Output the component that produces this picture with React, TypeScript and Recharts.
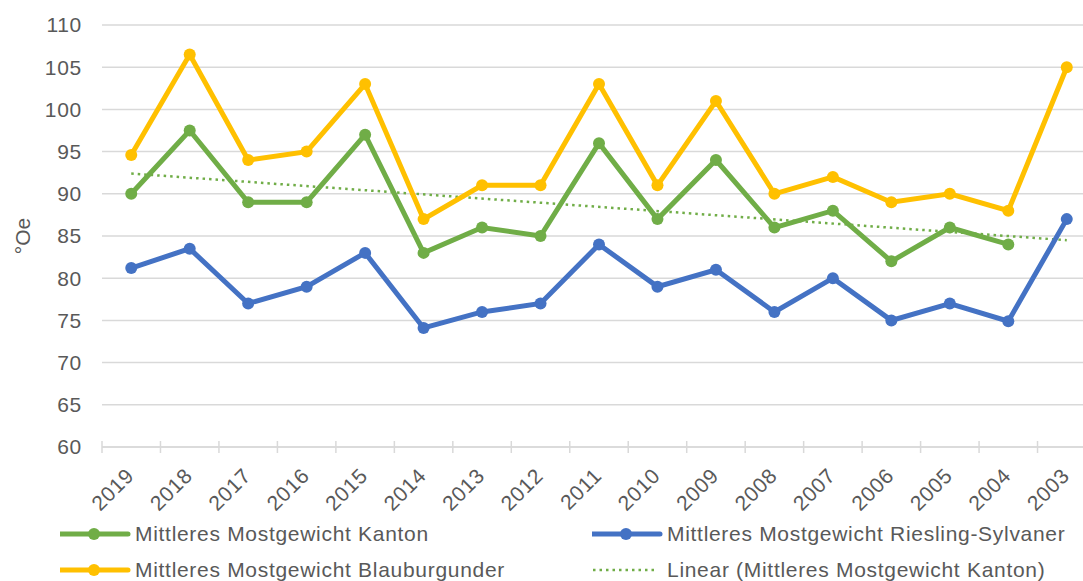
import React from 'react';
import { LineChart, Line, XAxis, YAxis, CartesianGrid } from 'recharts';

// Jahrgänge (neueste zuerst, wie im Original)
const years = ['2019', '2018', '2017', '2016', '2015', '2014', '2013', '2012', '2011', '2010', '2009', '2008', '2007', '2006', '2005', '2004', '2003'];

// Mittleres Mostgewicht in °Oe
const kanton = [90, 97.5, 89, 89, 97, 83, 86, 85, 96, 87, 94, 86, 88, 82, 86, 84, null];
const riesling = [81.2, 83.5, 77, 79, 83, 74.1, 76, 77, 84, 79, 81, 76, 80, 75, 77, 74.9, 87];
const blauburgunder = [94.6, 106.5, 94, 95, 103, 87, 91, 91, 103, 91, 101, 90, 92, 89, 90, 88, 105];
const trend = [92.4, null, null, null, null, null, null, null, null, null, null, null, null, null, null, null, 84.5];

const yTicks = [60, 65, 70, 75, 80, 85, 90, 95, 100, 105, 110];

const GREEN = '#70AD47';
const BLUE = '#4472C4';
const YELLOW = '#FFC000';
const TEXT = '#595959';
const GRID = '#D9D9D9';
const FONT = '"Liberation Sans", Arial, sans-serif';

const data = years.map((year, i) => ({
  year,
  kanton: kanton[i],
  riesling: riesling[i],
  blauburgunder: blauburgunder[i],
  trend: trend[i],
}));

const YearTick = (props: any) => {
  const { x, y, payload, width, visibleTicksCount } = props;
  const half = payload && payload.offset > 2 ? payload.offset : width / visibleTicksCount / 2;
  return (
    <g>
      <line x1={x - half} x2={x - half} y1={y - 6} y2={y + 6} stroke={GRID} strokeWidth={1.5} />
      <text
        x={x + 4}
        y={y + 30}
        transform={`rotate(-45 ${x + 4} ${y + 30})`}
        textAnchor="end"
        fill={TEXT}
        fontSize={21}
        letterSpacing={0.7}
        fontFamily={FONT}
      >
        {payload.value}
      </text>
    </g>
  );
};

const legendItems = [
  { label: 'Mittleres Mostgewicht Kanton', color: GREEN, left: 60, top: 534, dotted: false },
  { label: 'Mittleres Mostgewicht Riesling-Sylvaner', color: BLUE, left: 592, top: 534, dotted: false },
  { label: 'Mittleres Mostgewicht Blauburgunder', color: YELLOW, left: 60, top: 570, dotted: false },
  { label: 'Linear (Mittleres Mostgewicht Kanton)', color: GREEN, left: 592, top: 570, dotted: true },
];

export default function App() {
  return (
    <div
      style={{
        position: 'absolute',
        left: 0,
        top: 0,
        width: 1083,
        height: 581,
        overflow: 'hidden',
        background: '#fff',
        fontFamily: FONT,
      }}
    >
      <LineChart
        width={1100}
        height={581}
        data={data}
        margin={{ top: 25, right: 4, bottom: 0, left: 0 }}
      >
        <CartesianGrid vertical={false} stroke={GRID} strokeWidth={1.5} />
        <XAxis
          dataKey="year"
          scale="band"
          interval={0}
          height={134}
          tickSize={0}
          tickMargin={0}
          tickLine={false}
          axisLine={{ stroke: GRID, strokeWidth: 1.5 }}
          tick={<YearTick />}
        />
        <YAxis
          domain={[60, 110]}
          ticks={yTicks}
          width={102}
          axisLine={false}
          tickLine={false}
          tickSize={0}
          tickMargin={20}
          tick={{ fill: TEXT, fontSize: 21, fontFamily: FONT, letterSpacing: 0.7 }}
          label={{
            content: (p: any) => {
              const { x, y, height } = p.viewBox;
              const cx = x + 22;
              const cy = y + height / 2;
              return (
                <text
                  x={cx}
                  y={cy}
                  transform={`rotate(-90 ${cx} ${cy})`}
                  textAnchor="middle"
                  dominantBaseline="central"
                  fill={TEXT}
                  fontSize={21}
                  fontFamily={FONT}
                >
                  °Oe
                </text>
              );
            },
          }}
        />
        <Line
          dataKey="trend"
          stroke={GREEN}
          strokeWidth={2.5}
          strokeDasharray="2.5 4"
          dot={false}
          connectNulls
          isAnimationActive={false}
        />
        <Line
          dataKey="riesling"
          stroke={BLUE}
          strokeWidth={5}
          dot={{ r: 6, fill: BLUE, stroke: BLUE, strokeWidth: 0 }}
          isAnimationActive={false}
        />
        <Line
          dataKey="kanton"
          stroke={GREEN}
          strokeWidth={5}
          dot={{ r: 6, fill: GREEN, stroke: GREEN, strokeWidth: 0 }}
          isAnimationActive={false}
        />
        <Line
          dataKey="blauburgunder"
          stroke={YELLOW}
          strokeWidth={5}
          dot={{ r: 6, fill: YELLOW, stroke: YELLOW, strokeWidth: 0 }}
          isAnimationActive={false}
        />
      </LineChart>

      {legendItems.map((item) => (
        <div
          key={item.label}
          style={{
            position: 'absolute',
            left: item.left,
            top: item.top - 15,
            height: 30,
            display: 'flex',
            alignItems: 'center',
            whiteSpace: 'nowrap',
          }}
        >
          <svg width={75} height={30}>
            {item.dotted ? (
              <line x1={1} x2={62} y1={15} y2={15} stroke={item.color} strokeWidth={2.5} strokeDasharray="2.5 4" />
            ) : (
              <>
                <line x1={0} x2={68} y1={15} y2={15} stroke={item.color} strokeWidth={5} strokeLinecap="round" />
                <circle cx={34} cy={15} r={6} fill={item.color} />
              </>
            )}
          </svg>
          <span style={{ color: TEXT, fontSize: 21, letterSpacing: 0.7 }}>{item.label}</span>
        </div>
      ))}
    </div>
  );
}
